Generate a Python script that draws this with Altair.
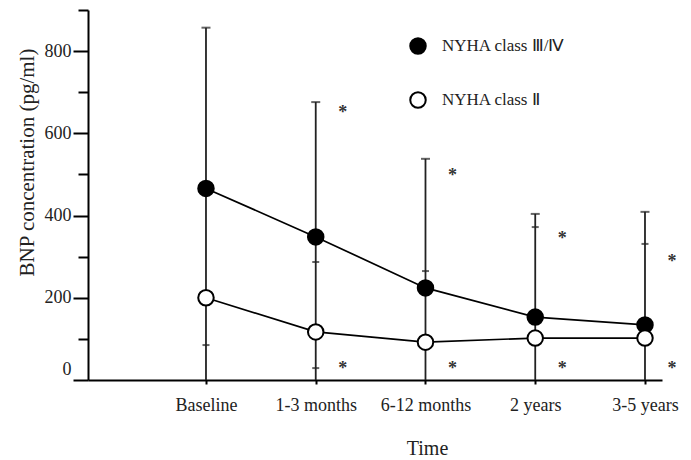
import json
import altair as alt
import pandas as pd

# ---- data ----
categories = ["Baseline", "1-3 months", "6-12 months", "2 years", "3-5 years"]
series_names = ["NYHA class Ⅲ/Ⅳ", "NYHA class Ⅱ"]
severe_mean = [466, 348, 224, 153, 134]      # NYHA III/IV (filled)
mild_mean = [200, 117, 92, 102, 102]         # NYHA II (open)
bar_top = [857, 676, 538, 404, 409]          # upper end of the SD bars
crossbar_category = ["Baseline", "1-3 months", "1-3 months", "6-12 months", "2 years", "3-5 years"]
crossbar_value = [85, 287, 29, 265, 372, 331]
star_category = ["1-3 months", "6-12 months", "2 years", "3-5 years",
                 "1-3 months", "6-12 months", "2 years", "3-5 years"]
star_value = [659, 506, 353, 297, 36, 36, 36, 36]
y_ticks = [0, 100, 200, 300, 400, 500, 600, 700, 800, 900]

idx = {c: i + 1 for i, c in enumerate(categories)}

means = pd.DataFrame(
    [{"idx": idx[c], "value": v, "series": series_names[0]} for c, v in zip(categories, severe_mean)]
    + [{"idx": idx[c], "value": v, "series": series_names[1]} for c, v in zip(categories, mild_mean)]
)
bars = pd.DataFrame({"idx": [idx[c] for c in categories], "value": bar_top})
cross = pd.DataFrame({"idx": [idx[c] for c in crossbar_category], "value": crossbar_value})
stars = pd.DataFrame({"idx": [idx[c] for c in star_category], "value": star_value})

FONT = "Liberation Serif"
label_expr = "%s[datum.value - 1]" % json.dumps(categories)

x_enc = alt.X(
    "idx:Q",
    title="Time",
    scale=alt.Scale(domain=[-0.075, 5.155], nice=False, zero=False),
    axis=alt.Axis(
        values=[1, 2, 3, 4, 5], labelExpr=label_expr, tickSize=4, labelPadding=12,
        titleX=339, titleY=58, titleAnchor="start", titleAlign="center", titleFontSize=20,
    ),
)
y_enc = alt.Y(
    "value:Q",
    title="BNP concentration  (pg/ml)",
    scale=alt.Scale(domain=[0, 900], nice=False),
    axis=alt.Axis(
        values=y_ticks,
        labelExpr="datum.value % 200 === 0 ? datum.label : ''",
        tickSize={"condition": {"test": "datum.value % 200 === 0", "value": 15}, "value": 10},
        labelOffset={"condition": {"test": "datum.value === 0", "value": -11}, "value": 0},
        labelPadding=2, titlePadding=7, titleY=152, titleFontSize=21,
    ),
)

rules = alt.Chart(bars).mark_rule(color="#222", strokeWidth=1.8).encode(
    x=x_enc, y=y_enc, y2=alt.datum(0)
)
caps = alt.Chart(bars).mark_tick(color="#222", orient="horizontal", size=9, thickness=2).encode(
    x=x_enc, y=y_enc
)
crossbars = alt.Chart(cross).mark_tick(color="#222", orient="horizontal", size=7, thickness=2).encode(
    x=x_enc, y=y_enc
)
lines = alt.Chart(means).mark_line(color="black", strokeWidth=1.7).encode(
    x=x_enc, y=y_enc, detail="series:N"
)
points = alt.Chart(means).mark_point(
    filled=True, size=240, stroke="black", strokeWidth=2, opacity=1
).encode(
    x=x_enc,
    y=y_enc,
    fill=alt.Fill(
        "series:N",
        scale=alt.Scale(domain=series_names, range=["black", "white"]),
        legend=alt.Legend(
            title=None, orient="none", legendX=321, legendY=27,
            symbolType="circle", symbolSize=240, symbolStrokeColor="black",
            symbolStrokeWidth=2, labelFont=FONT, labelFontSize=17, labelColor="#222",
            labelOffset=15, rowPadding=30, padding=0,
        ),
    ),
)
star_marks = alt.Chart(stars).mark_text(
    text="*", font=FONT, fontSize=18, fontWeight="bold", dx=27, dy=9, color="#333",
    baseline="alphabetic",
).encode(x=x_enc, y=y_enc)

chart = (
    alt.layer(rules, caps, crossbars, lines, points, star_marks)
    .properties(
        width=574, height=370,
        autosize=alt.AutoSizeParams(type="none"),
        padding={"left": 88, "top": 10, "right": 29, "bottom": 80},
    )
    .configure_view(stroke=None)
    .configure_axis(
        grid=False, domainColor="black", domainWidth=2, tickColor="black", tickWidth=2,
        labelFont=FONT, labelFontSize=18, labelColor="#222",
        titleFont=FONT, titleFontSize=18, titleFontWeight="normal", titleColor="#222",
    )
)

chart.save("out.html", embed_options={"renderer": "svg", "actions": False})
